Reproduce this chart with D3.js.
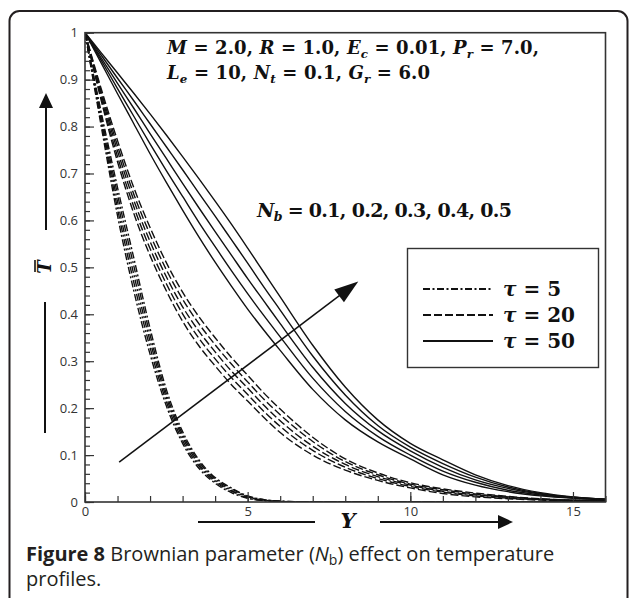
<!DOCTYPE html>
<html>
<head>
<meta charset="utf-8">
<script src="https://cdn.jsdelivr.net/npm/d3@7"></script>
<style>
body { margin: 0; background: #fff; }
</style>
</head>
<body>
<div id="chart"></div>
<script>
// Y coordinate grid shared by every profile
const yGrid = [0, 0.5, 1, 1.5, 2, 2.5, 3, 3.5, 4, 4.5, 5, 5.5, 6, 7, 8, 9, 10, 11, 12, 13, 14, 15, 16];

const nbValues = [0.1, 0.2, 0.3, 0.4, 0.5];

// temperature profiles, one row per Nb (0.1 .. 0.5)
const tau5 = [
    [1, .800, .610, .450, .315, .205, .125, .072, .040, .020, .008, .003, .001, 0, 0, 0, 0, 0, 0, 0, 0, 0, 0],
    [1, .808, .625, .468, .329, .214, .131, .077, .043, .023, .009, .003, .001, 0, 0, 0, 0, 0, 0, 0, 0, 0, 0],
    [1, .815, .640, .485, .343, .223, .138, .081, .046, .025, .011, .004, .001, 0, 0, 0, 0, 0, 0, 0, 0, 0, 0],
    [1, .823, .655, .503, .356, .231, .144, .086, .049, .028, .012, .005, .002, 0, 0, 0, 0, 0, 0, 0, 0, 0, 0],
    [1, .830, .670, .520, .370, .240, .150, .090, .052, .030, .013, .005, .002, 0, 0, 0, 0, 0, 0, 0, 0, 0, 0]
];

const tau20 = [
    [1, .855, .725, .615, .525, .450, .385, .333, .290, .250, .215, .180, .148, .100, .068, .046, .030, .018, .011, .007, .004, .003, .002],
    [1, .861, .736, .629, .540, .465, .401, .349, .305, .265, .229, .193, .161, .110, .074, .050, .033, .021, .013, .008, .005, .003, .002],
    [1, .868, .748, .643, .555, .480, .416, .364, .320, .279, .243, .206, .173, .119, .080, .054, .036, .023, .015, .010, .006, .004, .003],
    [1, .874, .759, .656, .570, .495, .432, .380, .335, .294, .256, .219, .186, .129, .086, .058, .038, .026, .017, .011, .006, .004, .003],
    [1, .880, .770, .670, .585, .510, .447, .395, .350, .308, .270, .232, .198, .138, .092, .062, .041, .028, .019, .012, .007, .004, .003]
];

const tau50 = [
    [1, .935, .870, .806, .742, .681, .622, .565, .511, .460, .411, .366, .323, .240, .175, .128, .092, .058, .036, .022, .013, .008, .005],
    [1, .941, .881, .822, .763, .706, .651, .596, .544, .493, .444, .397, .352, .264, .193, .140, .100, .066, .042, .025, .015, .009, .005],
    [1, .946, .892, .839, .785, .732, .679, .627, .576, .526, .476, .428, .380, .287, .210, .152, .109, .074, .047, .029, .017, .010, .006],
    [1, .952, .903, .855, .806, .757, .708, .658, .609, .559, .509, .458, .409, .311, .228, .163, .117, .082, .053, .032, .018, .010, .006],
    [1, .957, .914, .871, .827, .782, .736, .689, .641, .592, .541, .489, .437, .334, .245, .175, .125, .090, .058, .035, .020, .011, .006]
];

const xTicks = [0, 5, 10, 15];
const yTicks = [0, 0.1, 0.2, 0.3, 0.4, 0.5, 0.6, 0.7, 0.8, 0.9, 1];
const legendLabels = ["5", "20", "50"];

// arrow showing increasing Nb (data coords)
const nbArrow = [[1.05, 0.085], [8.4, 0.47]];

const W = 629, H = 598;
const ink = "#231f20";
const mathFont = "'DejaVu Serif', serif";

const svg = d3.select("#chart").append("svg")
    .attr("width", W)
    .attr("height", H);

// outer figure frame
svg.append("rect")
    .attr("x", 9.5).attr("y", 11)
    .attr("width", 618).attr("height", 640)
    .attr("rx", 10)
    .attr("fill", "none")
    .attr("stroke", ink)
    .attr("stroke-width", 2);

const x = d3.scaleLinear().domain([0, 16]).range([85, 605.5]);
const y = d3.scaleLinear().domain([0, 1]).range([502, 32.7]);

svg.append("clipPath").attr("id", "plotClip")
    .append("rect")
    .attr("x", x(0)).attr("y", y(1))
    .attr("width", x(16) - x(0)).attr("height", y(0) - y(1));

// curves
const line = d3.line()
    .x((d, j) => x(yGrid[j]))
    .y(d => y(d))
    .curve(d3.curveMonotoneX);

const families = [
    { rows: tau5, dash: "7,2.5,2,2.5" },
    { rows: tau20, dash: "8,3" },
    { rows: tau50, dash: null }
];

const curves = svg.append("g").attr("clip-path", "url(#plotClip)");
for(const fam of families)
{
    curves.append("g")
        .selectAll("path")
        .data(fam.rows)
        .join("path")
        .attr("d", line)
        .attr("fill", "none")
        .attr("stroke", "#111")
        .attr("stroke-width", 1.4)
        .attr("stroke-dasharray", fam.dash);
}

// axes
const tickFont = g => g.selectAll("text")
    .attr("font-family", "'Open Sans', sans-serif")
    .attr("font-size", 13)
    .attr("fill", "#333");

svg.append("g")
    .attr("transform", `translate(${x(0)},0)`)
    .call(d3.axisLeft(y).tickValues(yTicks).tickFormat(d3.format("~g"))
        .tickSizeInner(-9).tickSizeOuter(0).tickPadding(7))
    .call(tickFont);

svg.append("g")
    .attr("transform", `translate(${x(0)},0)`)
    .call(d3.axisLeft(y).tickValues(d3.range(0, 1.001, 0.02)).tickFormat("")
        .tickSizeInner(-5).tickSizeOuter(0));

svg.append("g")
    .attr("transform", `translate(0,${y(0)})`)
    .call(d3.axisBottom(x).tickValues(xTicks).tickFormat(d3.format("d"))
        .tickSizeInner(-10).tickSizeOuter(0).tickPadding(5))
    .call(tickFont);

svg.append("g")
    .attr("transform", `translate(0,${y(0)})`)
    .call(d3.axisBottom(x).tickValues(d3.range(0, 17, 1)).tickFormat("")
        .tickSizeInner(-6).tickSizeOuter(0));

svg.selectAll(".domain").remove();
svg.selectAll(".tick line").attr("stroke", "#333").attr("stroke-width", 1.2);

// plot box
svg.append("rect")
    .attr("x", x(0)).attr("y", y(1))
    .attr("width", x(16) - x(0)).attr("height", y(0) - y(1))
    .attr("fill", "none")
    .attr("stroke", "#333")
    .attr("stroke-width", 1.6);

// helpers
function arrowHead(g, x1, y1, x2, y2, len, half)
{
    const a = Math.atan2(y2 - y1, x2 - x1);
    const bx = x2 - len * Math.cos(a), by = y2 - len * Math.sin(a);
    const px = -Math.sin(a) * half, py = Math.cos(a) * half;
    g.append("path")
        .attr("d", `M${x2},${y2}L${bx + px},${by + py}L${bx - px},${by - py}Z`)
        .attr("fill", "#111");
}

function arrow(g, x1, y1, x2, y2, len, half, w)
{
    const a = Math.atan2(y2 - y1, x2 - x1);
    g.append("line")
        .attr("x1", x1).attr("y1", y1)
        .attr("x2", x2 - (len - 2) * Math.cos(a)).attr("y2", y2 - (len - 2) * Math.sin(a))
        .attr("stroke", "#111").attr("stroke-width", w);
    arrowHead(g, x1, y1, x2, y2, len, half);
}

// parts: [text, italic, sub]
function mathText(g, px, py, size, parts)
{
    const t = g.append("text")
        .attr("x", px).attr("y", py)
        .attr("font-family", mathFont)
        .attr("font-weight", "bold")
        .attr("font-size", size)
        .attr("fill", "#111");
    let shift = 0;
    for(const p of parts)
    {
        const want = p[2] ? 4 : 0;
        t.append("tspan")
            .attr("dy", want - shift)
            .attr("font-style", p[1] ? "italic" : "normal")
            .attr("font-size", p[2] ? size * 0.66 : size)
            .text(p[0]);
        shift = want;
    }
    return t;
}

// arrow for Nb in the plot
arrow(svg, x(nbArrow[0][0]), y(nbArrow[0][1]), x(nbArrow[1][0]), y(nbArrow[1][1]), 24, 8, 1.5);

// parameter text
mathText(svg, 167, 54, 18, [
    ["M", true], [" = 2.0, ", false], ["R", true], [" = 1.0, ", false],
    ["E", true], ["c", true, true], [" = 0.01, ", false],
    ["P", true], ["r", true, true], [" = 7.0,", false]
]).attr("textLength", 372).attr("lengthAdjust", "spacing");

mathText(svg, 167, 79, 18, [
    ["L", true], ["e", true, true], [" = 10, ", false],
    ["N", true], ["t", true, true], [" = 0.1, ", false],
    ["G", true], ["r", true, true], [" = 6.0", false]
]).attr("textLength", 263).attr("lengthAdjust", "spacing");

mathText(svg, 257, 217, 19, [
    ["N", true], ["b", true, true], [" = " + nbValues.join(", "), false]
]).attr("textLength", 255).attr("lengthAdjust", "spacing");

// legend
const legend = svg.append("g");
legend.append("rect")
    .attr("x", 407.5).attr("y", 248.5)
    .attr("width", 191).attr("height", 119)
    .attr("fill", "#fff")
    .attr("stroke", "#333")
    .attr("stroke-width", 1.4);

families.forEach((fam, i) => {
    const ly = 289 + i * 26;
    legend.append("line")
        .attr("x1", 423).attr("x2", 493)
        .attr("y1", ly).attr("y2", ly)
        .attr("stroke", "#111")
        .attr("stroke-width", 2)
        .attr("stroke-dasharray", fam.dash);
    mathText(legend, 503, ly + 7, 20, [["τ", true], [" = " + legendLabels[i], false]]);
});

// y label with arrow
arrow(svg, 46, 230, 46, 93, 15, 7, 2);
svg.append("line")
    .attr("x1", 45).attr("x2", 45)
    .attr("y1", 302).attr("y2", 433)
    .attr("stroke", "#111").attr("stroke-width", 2);

const yl = svg.append("g").attr("transform", "translate(45,267) rotate(-90)");
yl.append("text")
    .attr("text-anchor", "middle")
    .attr("y", 6)
    .attr("font-family", mathFont)
    .attr("font-weight", "bold")
    .attr("font-style", "italic")
    .attr("font-size", 18)
    .attr("fill", "#111")
    .text("T");
yl.append("line")
    .attr("x1", -5).attr("x2", 7)
    .attr("y1", -10).attr("y2", -10)
    .attr("stroke", "#111").attr("stroke-width", 1.6);

// x label with arrow
svg.append("line")
    .attr("x1", 198).attr("x2", 315)
    .attr("y1", 522).attr("y2", 522)
    .attr("stroke", "#111").attr("stroke-width", 2);
arrow(svg, 380, 522, 513, 522, 15, 7, 2);
svg.append("text")
    .attr("x", 348).attr("y", 528)
    .attr("text-anchor", "middle")
    .attr("font-family", mathFont)
    .attr("font-weight", "bold")
    .attr("font-style", "italic")
    .attr("font-size", 21)
    .attr("fill", "#111")
    .text("Y");

// caption
const cap = svg.append("text")
    .attr("x", 26).attr("y", 561)
    .attr("font-family", "'Open Sans', sans-serif")
    .attr("font-size", 20)
    .attr("fill", ink);
cap.append("tspan").attr("font-weight", "bold").text("Figure 8");
cap.append("tspan").text(" Brownian parameter (");
cap.append("tspan").attr("font-style", "italic").text("N");
cap.append("tspan").attr("dy", 4).attr("font-size", 14).text("b");
cap.append("tspan").attr("dy", -4).text(") effect on temperature");

svg.append("text")
    .attr("x", 26).attr("y", 586)
    .attr("font-family", "'Open Sans', sans-serif")
    .attr("font-size", 20)
    .attr("fill", ink)
    .text("profiles.");
</script>
</body>
</html>
